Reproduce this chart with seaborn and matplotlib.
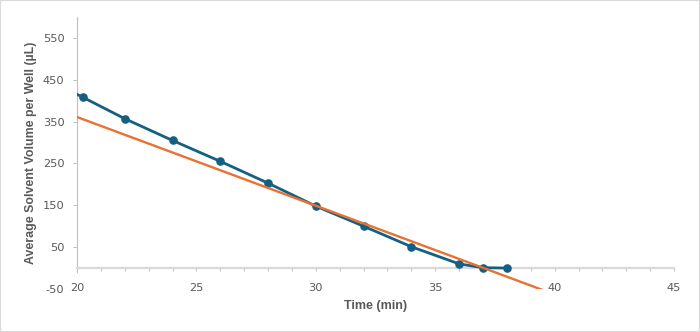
import matplotlib
matplotlib.use("Agg")
import matplotlib.pyplot as plt
from matplotlib.patches import Rectangle
from matplotlib.ticker import MultipleLocator
import seaborn as sns
import pandas as pd

# ---- data ----
time_min = [18.25, 20.25, 22, 24, 26, 28, 30, 32, 34, 36, 37, 38]
volume_ul = [466, 408, 357, 305, 255, 203, 148, 100, 51, 10, 1, 0]

trend_x = [20, 40]
trend_y = [361, -63]

x_ticks = [20, 25, 30, 35, 40, 45]
y_ticks = [-50, 50, 150, 250, 350, 450, 550]

x_label = "Time (min)"
y_label = "Average Solvent Volume per Well (µL)"

BLUE = "#156082"
ORANGE = "#E97132"
TEXT = "#595959"

sns.set_theme(style="white")
plt.rcParams["font.family"] = ["Liberation Sans", "DejaVu Sans"]
plt.rcParams["axes.unicode_minus"] = False

df = pd.DataFrame({"t": time_min, "v": volume_ul})
tr = pd.DataFrame({"t": trend_x, "v": trend_y})

fig = plt.figure(figsize=(7.0, 3.32), dpi=100)
ax = fig.add_axes([0.110, 0.1295, 0.853, 0.8193])

sns.lineplot(data=df, x="t", y="v", ax=ax, color=BLUE, marker="o",
             markersize=6.2, markeredgewidth=0, linewidth=2.0, sort=False,
             zorder=3)
sns.lineplot(data=tr, x="t", y="v", ax=ax, color=ORANGE, linewidth=1.7,
             sort=False, zorder=4)

ax.set_xlim(20, 45)
ax.set_ylim(-50, 600)

ax.set_xticks(x_ticks)
ax.xaxis.set_minor_locator(MultipleLocator(1))
ax.set_yticks(y_ticks)

for s in ["top", "right"]:
    ax.spines[s].set_visible(False)
ax.spines["bottom"].set_position(("data", 0))
ax.spines["bottom"].set_color("#d9d9d9")
ax.spines["bottom"].set_linewidth(1.6)
ax.spines["left"].set_color("#bfbfbf")
ax.spines["left"].set_linewidth(0.8)
ax.spines["left"].set_bounds(-10, 600)

ax.tick_params(axis="x", which="both", direction="out", length=2.4,
               width=0.7, color="#bfbfbf", labelcolor=TEXT,
               pad=8.5, bottom=True)
ax.tick_params(axis="y", which="major", direction="out", length=3,
               width=0.7, color="#bfbfbf", labelcolor=TEXT,
               pad=6, left=True)
for lab in ax.get_xticklabels() + ax.get_yticklabels():
    lab.set_fontfamily(["DejaVu Sans"])
    lab.set_fontsize(8.2)
ax.yaxis.get_major_ticks()[0].tick1line.set_visible(False)

ax.set_xlabel(x_label, fontsize=9, fontweight="bold", color=TEXT, labelpad=5)
ax.set_ylabel(y_label, fontsize=8.9, fontweight="bold", color=TEXT, labelpad=4)

fig.add_artist(Rectangle((0, 0), 1, 1, transform=fig.transFigure,
                         fill=False, edgecolor="#d9d9d9", linewidth=1.5))

fig.savefig("out.png", dpi=100)
